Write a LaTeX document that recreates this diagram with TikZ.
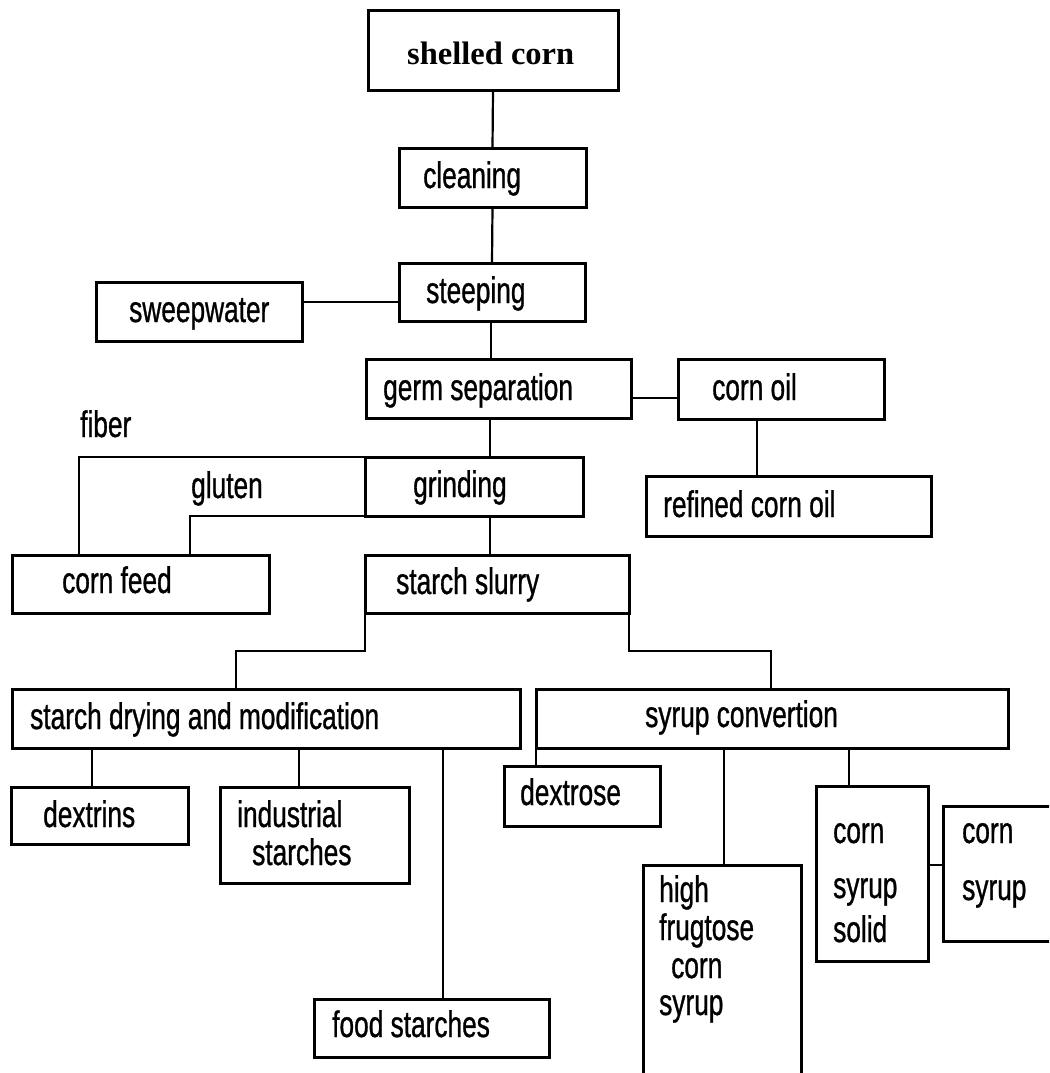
\documentclass[tikz,border=0pt]{standalone}
\usepackage{fontspec}
\newfontfamily\plotfont[FakeStretch=0.71,FakeBold=0.8]{Liberation Sans}
\newfontfamily\titleserif{Liberation Serif}
\newcommand\bx[5]{\node[box, minimum width={#4-#2}, minimum height={#5-#3}] (#1) at ({(#2+#4)/2},{(#3+#5)/2}) {};}
\begin{document}
\begin{tikzpicture}[x=1pt,y=-1pt,
  box/.style={draw, line width=3pt, inner sep=0pt, outer sep=0pt},
  conn/.style={line width=2.2pt},
  txt/.style={inner sep=0pt, anchor=base west, font=\plotfont\fontsize{37}{40}\selectfont},
  titletxt/.style={inner sep=0pt, anchor=base west, font=\titleserif\bfseries\fontsize{32.5}{36}\selectfont},
]
\clip (0,0) rectangle (1049,1073);
\fill[white] (0,0) rectangle (1049,1073);

% boxes
\bx{shelled}{368}{11}{618}{90}
\bx{clean}{399}{148}{586}{207}
\bx{steep}{399}{263}{585}{321}
\bx{sweep}{96}{282}{302}{341}
\bx{germ}{366}{359}{631}{418}
\bx{oil}{678}{359}{884}{419}
\bx{grind}{365}{457}{583}{516}
\bx{refined}{646}{476}{931}{536}
\bx{feed}{12}{555}{269}{613}
\bx{slurry}{365}{555}{629}{613}
\bx{drying}{12}{689}{520}{748}
\bx{syrupc}{536}{689}{1008}{748}
\bx{dextrins}{11}{787}{188}{844}
\bx{indus}{220}{787}{409}{883}
\bx{food}{314}{999}{549}{1057}
\bx{dextrose}{504}{766}{660}{826}
\bx{hfcs}{643}{865}{801}{1095}
\bx{solid}{816}{786}{928}{961}
\bx{csyrup}{943}{806}{1065}{941}

% connectors
\draw[conn] (shelled.south) -- (clean.north);
\draw[conn] (clean.south) -- (steep.north);
\draw[conn] (sweep.east |- 0,302) -- (steep.west |- 0,302);
\draw[conn] (steep.south -| 491,0) -- (germ.north -| 491,0);
\draw[conn] (germ.east |- 0,398) -- (oil.west |- 0,398);
\draw[conn] (oil.south -| 757,0) -- (refined.north -| 757,0);
\draw[conn] (germ.south -| 490,0) -- (grind.north -| 490,0);
\draw[conn] (grind.north west) -- (grind.north west -| 79,0) -- (feed.north -| 79,0);
\draw[conn] (grind.south west) -- (grind.south west -| 190,0) -- (feed.north -| 190,0);
\draw[conn] (grind.south -| 490,0) -- (slurry.north -| 490,0);
\draw[conn] (slurry.south west) -- (slurry.south west |- 0,651) -| (drying.north -| 236,0);
\draw[conn] (slurry.south east) -- (slurry.south east |- 0,651) -| (syrupc.north -| 771,0);
\draw[conn] (drying.south -| 92,0) -- (dextrins.north -| 92,0);
\draw[conn] (drying.south -| 299,0) -- (indus.north -| 299,0);
\draw[conn] (drying.south -| 443,0) -- (food.north -| 443,0);
\draw[conn] (syrupc.south west) -- (dextrose.north -| syrupc.south west);
\draw[conn] (syrupc.south -| 724,0) -- (hfcs.north -| 724,0);
\draw[conn] (syrupc.south -| 849,0) -- (solid.north -| 849,0);
\draw[conn] (solid.east |- 0,865) -- (csyrup.west |- 0,865);

% texts
\node[titletxt] (tshelled) at (407,65) {shelled corn};
\node[txt] (tclean) at (423,188) {cleaning};
\node[txt] (tsteep) at (426,303) {steeping};
\node[txt] (tsweep) at (129,322) {sweepwater};
\node[txt] (tgerm) at (383,400) {germ separation};
\node[txt] (tfiber) at (80,437) {fiber};
\node[txt] (tgluten) at (191,498) {gluten};
\node[txt] (tgrind) at (413,497) {grinding};
\node[txt] (toil) at (712,400) {corn oil};
\node[txt] (trefined) at (663,517) {refined corn oil};
\node[txt] (tfeed) at (62,593) {corn feed};
\node[txt] (tslurry) at (396,594) {starch slurry};
\node[txt] (tdrying) at (30,729) {starch drying and modification};
\node[txt] (tsyrupc) at (645,727) {syrup convertion};
\node[txt] (tdextrins) at (43,827) {dextrins};
\node[txt] (tindusa) at (237,827) {industrial};
\node[txt] (tindusb) at (252,865) {starches};
\node[txt] (tfood) at (332,1037) {food starches};
\node[txt] (tdextrose) at (520,805) {dextrose};
\node[txt] (thfa) at (659,902) {high};
\node[txt] (thfb) at (659,940) {frugtose};
\node[txt] (thfc) at (671,978) {corn};
\node[txt] (thfd) at (659,1015) {syrup};
\node[txt] (tsola) at (833,843) {corn};
\node[txt] (tsolb) at (833,898) {syrup};
\node[txt] (tsolc) at (833,942) {solid};
\node[txt] (tcsa) at (962,843) {corn};
\node[txt] (tcsb) at (962,900) {syrup};
\end{tikzpicture}
\end{document}
